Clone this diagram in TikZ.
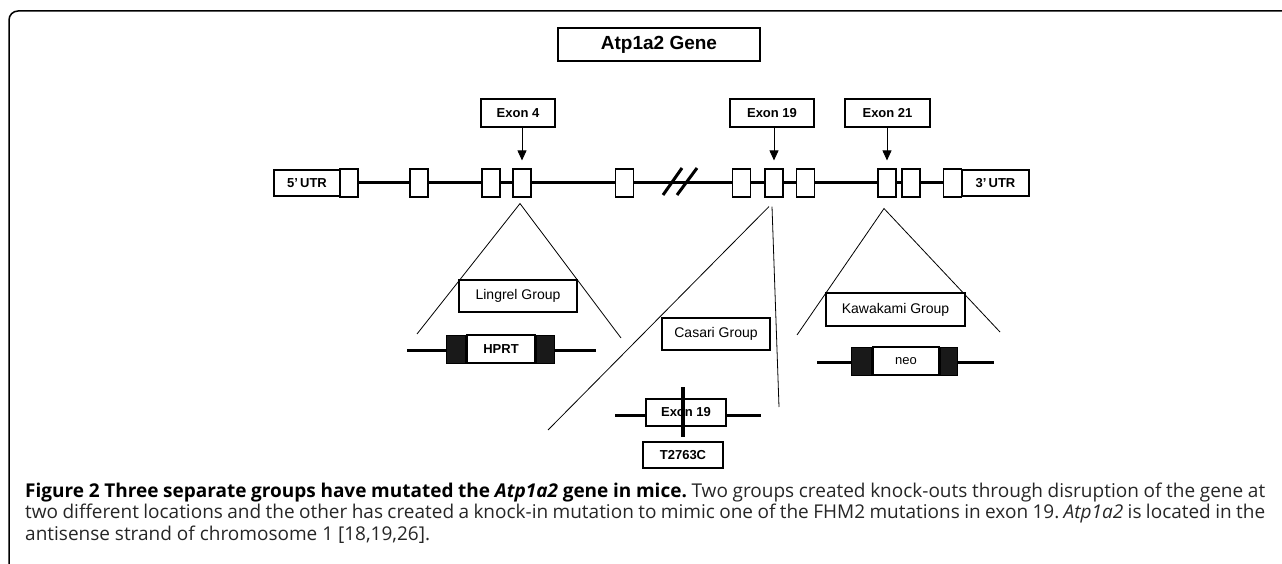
\documentclass[tikz,border=0pt]{standalone}
\usepackage{fontspec}
\setmainfont{Liberation Sans}
\newfontfamily\capfont{Open Sans}
\usetikzlibrary{arrows.meta}

\begin{document}
\begin{tikzpicture}[x=1pt,y=-1pt,font=\fontsize{13}{15}\selectfont,
  box/.style={draw,fill=white,line width=1.1pt,inner sep=0pt},
  exon/.style={box,minimum width=18pt,minimum height=28pt},
  lbl/.style={box,minimum height=28pt,font=\fontsize{13}{15}\selectfont\bfseries},
  grp/.style={box,minimum height=32pt,font=\fontsize{14}{16}\selectfont},
  blk/.style={draw,fill=black!90,line width=1pt,minimum height=28pt,inner sep=0pt},
  strand/.style={line width=3pt},
  leg/.style={line width=0.8pt}]
\useasboundingbox (0,0) rectangle (1282,564);

% frame
\draw[line width=1.5pt,rounded corners=9pt] (9,564) -- (9,11) -- (1282,11);

\node[box,minimum width=202pt,minimum height=33pt,font=\fontsize{19}{21}\selectfont\bfseries] (title) at (659,44.5) {Atp1a2 Gene};

% gene
\coordinate (g1) at (349,183);
\coordinate (g2) at (952,183);
\draw[strand] (g1) -- (g2);
\draw[strand] (663,195) -- (682,168);
\draw[strand] (677,195) -- (697,168);

\node[lbl,minimum width=66pt,minimum height=26pt] (utr5) at (307,183) {5{\char"27}\,UTR};
\node[lbl,minimum width=67pt,minimum height=26pt] (utr3) at (995.5,183) {3{\char"27}\,UTR};
\foreach \x/\n in {349/e1,419/e2,491/e3,522/e4,624.5/e5,741.5/e18,774/e19,805.5/e20,887/e21,911/e22,952.5/e23}
  \node[exon] (\n) at (\x,183) {};

% exon labels
\node[lbl,minimum width=74pt] (l4) at (518,113) {Exon 4};
\node[lbl,minimum width=84pt] (l19) at (772,113) {Exon 19};
\node[lbl,minimum width=85pt] (l21) at (887.5,113) {Exon 21};
\foreach \l/\e in {l4/e4,l19/e19,l21/e21}
  \draw[-{Triangle[width=9pt,length=10pt]},line width=0.8pt,shorten >=8pt] (\l.south -| \e.north) -- (\e.north);

% Groups
\coordinate (lin1) at (417,334);
\coordinate (lin2) at (621,338);
\draw[leg] (lin1) -- ([shift={(-2,6)}]e4.south) -- (lin2);
\coordinate (cas1) at (548,430);
\coordinate (cas2) at (779,407);
\draw[leg] (cas1) -- ([shift={(-5,9)}]e19.south);
\draw[leg] ([shift={(-2,9)}]e19.south) -- (cas2);
\coordinate (kaw1) at (797,335);
\coordinate (kaw2) at (1000,332);
\draw[leg] (kaw1) -- ([shift={(-3,11)}]e21.south) -- (kaw2);

\node[grp,minimum width=118pt] (lingrel) at (518,296) {Lingrel Group};
\node[grp,minimum width=108pt] (casari) at (716,334) {Casari Group};
\node[grp,minimum width=139pt,minimum height=33pt] (kawakami) at (895.5,309.5) {Kawakami Group};

% HPRT
\coordinate (h1) at (407,350);
\coordinate (h2) at (596,350);
\draw[strand] (h1) -- (h2);
\node[lbl,minimum width=68pt] (hprt) at (501,349) {HPRT};
\node[blk,minimum width=19pt,anchor=east] (hprtL) at (hprt.west) {};
\node[blk,minimum width=18pt,anchor=west] (hprtR) at (hprt.east) {};

% neo
\coordinate (n1) at (817,362);
\coordinate (n2) at (994,362);
\draw[strand] (n1) -- (n2);
\node[box,minimum width=66pt,minimum height=28pt] (neo) at (906,361) {neo};
\node[blk,minimum width=20pt,anchor=east] (neoL) at (neo.west) {};
\node[blk,minimum width=17pt,anchor=west] (neoR) at (neo.east) {};

% point mutation
\coordinate (x1) at (615,415);
\coordinate (x2) at (761,415);
\draw[strand] (x1) -- (x2);
\node[lbl,minimum width=80pt,minimum height=27pt] (ex19) at (686,412.5) {Exon 19};
\coordinate (m1) at (683,387);
\coordinate (m2) at (683,437);
\draw[line width=4pt] (m1) -- (m2);
\node[lbl,minimum width=80pt,minimum height=26pt] (snp) at (683,455) {T2763C};

% caption
\node[anchor=base west,text width=1240pt,inner sep=0pt,align=justify,text=black!85,
  font=\capfont\fontsize{19}{21.5}\selectfont\frenchspacing] (cap) at (25,497)
  {{\color{black}\textbf{Figure 2 Three separate groups have mutated the \textit{Atp1a2} gene in mice.}} Two groups created knock-outs through disruption of the gene at\linebreak
  two different locations and the other has created a knock-in mutation to mimic one of the FHM2 mutations in exon 19. \textit{Atp1a2} is located in the\linebreak
  antisense strand of chromosome 1 [18,19,26].};
\end{tikzpicture}
\end{document}
